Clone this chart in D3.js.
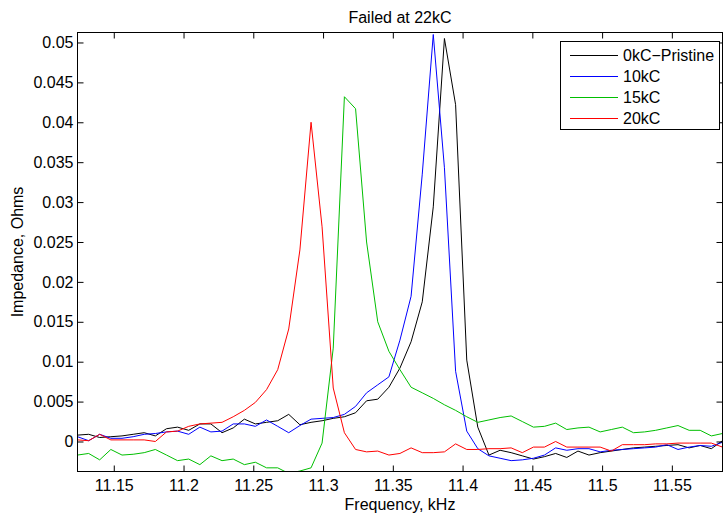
<!DOCTYPE html>
<html>
<head>
<meta charset="utf-8">
<script src="https://cdn.jsdelivr.net/npm/d3@7"></script>
<style>
  body { margin: 0; background: #fff; }
  svg { display: block; font-family: "Liberation Sans", Arial, sans-serif; }
</style>
</head>
<body>
<svg id="chart" width="723" height="515"></svg>
<script>
// frequency points (kHz)
const freq = [11.1240, 11.1320, 11.1399, 11.1479, 11.1559, 11.1639, 11.1718, 11.1798, 11.1878, 11.1957,
  11.2037, 11.2117, 11.2196, 11.2276, 11.2356, 11.2436, 11.2515, 11.2595, 11.2675, 11.2754,
  11.2834, 11.2914, 11.2993, 11.3073, 11.3153, 11.3233, 11.3312, 11.3392, 11.3472, 11.3551,
  11.3631, 11.3711, 11.3790, 11.3870, 11.3950, 11.4030, 11.4109, 11.4189, 11.4269, 11.4348,
  11.4428, 11.4508, 11.4587, 11.4667, 11.4747, 11.4827, 11.4906, 11.4986, 11.5066, 11.5145,
  11.5225, 11.5305, 11.5384, 11.5464, 11.5544, 11.5624, 11.5703, 11.5783, 11.5863];

// impedance (Ohms) per cycle count
const pristine = [0.0008, 0.0009, 0.0005, 0.0006, 0.0007, 0.0009, 0.0011, 0.0007, 0.0016, 0.0018,
  0.0014, 0.0022, 0.0022, 0.0011, 0.0017, 0.0028, 0.0022, 0.0024, 0.0026, 0.0034,
  0.0021, 0.0024, 0.0026, 0.0029, 0.0031, 0.0036, 0.0051, 0.0053, 0.0068, 0.0092,
  0.0125, 0.0175, 0.0294, 0.0505, 0.0422, 0.0102, 0.0018, -0.0017, -0.0011, -0.0014,
  -0.0018, -0.0022, -0.0019, -0.0015, -0.0020, -0.0012, -0.0017, -0.0014, -0.0012, -0.0010,
  -0.0008, -0.0007, -0.0006, -0.0005, -0.0004, -0.0008, -0.0005, -0.0009, 0.0001];

const kc10 = [0.0006, 0.0001, 0.0009, 0.0004, 0.0004, 0.0006, 0.0009, 0.0010, 0.0012, 0.0013,
  0.0009, 0.0018, 0.0012, 0.0013, 0.0022, 0.0022, 0.0019, 0.0027, 0.0019, 0.0011,
  0.0020, 0.0028, 0.0029, 0.0030, 0.0034, 0.0044, 0.0061, 0.0071, 0.0081, 0.0127,
  0.0182, 0.0335, 0.0510, 0.0343, 0.0088, 0.0013, -0.0009, -0.0018, -0.0021, -0.0024,
  -0.0023, -0.0021, -0.0017, -0.0008, -0.0011, -0.0009, -0.0009, -0.0013, -0.0011, -0.0010,
  -0.0009, -0.0008, -0.0007, -0.0004, -0.0010, -0.0007, -0.0005, -0.0006, -0.0001];

const kc15 = [-0.0017, -0.0015, -0.0023, -0.0010, -0.0017, -0.0016, -0.0014, -0.0010, -0.0017, -0.0024,
  -0.0022, -0.0029, -0.0018, -0.0024, -0.0022, -0.0029, -0.0026, -0.0033, -0.0033, -0.0040,
  -0.0037, -0.0033, -0.0002, 0.0117, 0.0432, 0.0417, 0.0250, 0.0150, 0.0113, 0.0090,
  0.0068, 0.0061, 0.0054, 0.0046, 0.0039, 0.0031, 0.0024, 0.0027, 0.0030, 0.0032,
  0.0025, 0.0018, 0.0019, 0.0023, 0.0015, 0.0017, 0.0018, 0.0012, 0.0015, 0.0018,
  0.0011, 0.0012, 0.0014, 0.0017, 0.0020, 0.0014, 0.0014, 0.0007, 0.0010];

const kc20 = [0.0002, 0.0001, 0.0009, 0.0002, 0.0002, 0.0002, 0.0002, 0.0000, 0.0012, 0.0013,
  0.0019, 0.0022, 0.0023, 0.0024, 0.0031, 0.0039, 0.0049, 0.0065, 0.0090, 0.0141,
  0.0240, 0.0400, 0.0269, 0.0067, 0.0011, -0.0010, -0.0013, -0.0012, -0.0017, -0.0015,
  -0.0008, -0.0014, -0.0014, -0.0013, -0.0003, -0.0010, -0.0010, -0.0009, -0.0009, -0.0008,
  -0.0014, -0.0007, -0.0007, 0.0000, -0.0007, -0.0007, -0.0007, -0.0007, -0.0012, -0.0004,
  -0.0004, -0.0004, -0.0003, -0.0003, -0.0002, -0.0002, -0.0002, -0.0002, -0.0007];

const seriesNames = ["0kC\u2212Pristine", "10kC", "15kC", "20kC"];
const seriesColors = ["#000000", "#0000ff", "#00bf00", "#ff0000"];
const seriesData = [pristine, kc10, kc15, kc20];

const xTicks = [11.15, 11.2, 11.25, 11.3, 11.35, 11.4, 11.45, 11.5, 11.55];
const yTicks = [0, 0.005, 0.01, 0.015, 0.02, 0.025, 0.03, 0.035, 0.04, 0.045, 0.05];

// plot box
const plotLeft = 77.5, plotRight = 722.5, plotTop = 32.5, plotBottom = 471.5;
const fontSize = "16px";

const svg = d3.select("#chart");

const x = d3.scaleLinear().domain([11.124, 11.5863]).range([plotLeft, plotRight]);
const y = d3.scaleLinear().domain([-0.00376, 0.05125]).range([plotBottom, plotTop]);

svg.append("defs").append("clipPath").attr("id", "plotclip")
  .append("rect")
    .attr("x", plotLeft).attr("y", plotTop)
    .attr("width", plotRight - plotLeft).attr("height", plotBottom - plotTop);

// lines
const line = d3.line()
    .x((d, i) => x(freq[i]))
    .y(d => y(d));

svg.append("g")
    .attr("clip-path", "url(#plotclip)")
  .selectAll("path")
  .data(seriesData)
  .join("path")
    .attr("fill", "none")
    .attr("stroke", (d, i) => seriesColors[i])
    .attr("stroke-width", 1)
    .attr("d", line);

// axes, MATLAB style: inward ticks on all four sides
const tickLen = 6;
svg.append("g")
    .attr("transform", `translate(0,${plotBottom})`)
    .call(d3.axisBottom(x).tickValues(xTicks).tickSizeInner(-tickLen).tickSizeOuter(0).tickPadding(8)
      .tickFormat(d3.format("")))
    .call(g => g.selectAll("text").style("font-size", fontSize).attr("fill", "#000"));

svg.append("g")
    .attr("transform", `translate(0,${plotTop})`)
    .call(d3.axisTop(x).tickValues(xTicks).tickSizeInner(-tickLen).tickSizeOuter(0).tickFormat(""));

svg.append("g")
    .attr("transform", `translate(${plotLeft},0)`)
    .call(d3.axisLeft(y).tickValues(yTicks).tickSizeInner(-tickLen).tickSizeOuter(0).tickPadding(4)
      .tickFormat(d3.format("")))
    .call(g => g.selectAll("text").style("font-size", fontSize).attr("fill", "#000"));

svg.append("g")
    .attr("transform", `translate(${plotRight},0)`)
    .call(d3.axisRight(y).tickValues(yTicks).tickSizeInner(-tickLen).tickSizeOuter(0).tickFormat(""));

svg.selectAll(".domain").remove();
svg.selectAll(".tick line").attr("stroke", "#000");

svg.append("rect")
    .attr("x", plotLeft).attr("y", plotTop)
    .attr("width", plotRight - plotLeft).attr("height", plotBottom - plotTop)
    .attr("fill", "none").attr("stroke", "#000").attr("stroke-width", 1);

// titles
svg.append("text")
    .attr("x", (plotLeft + plotRight) / 2).attr("y", 23)
    .attr("text-anchor", "middle")
    .style("font-size", fontSize)
    .text("Failed at 22kC");

svg.append("text")
    .attr("x", (plotLeft + plotRight) / 2).attr("y", 510)
    .attr("text-anchor", "middle")
    .style("font-size", fontSize)
    .text("Frequency, kHz");

svg.append("text")
    .attr("transform", `translate(23,${(plotTop + plotBottom) / 2}) rotate(-90)`)
    .attr("text-anchor", "middle")
    .style("font-size", fontSize)
    .text("Impedance, Ohms");

// legend
const legend = svg.append("g");
legend.append("rect")
    .attr("x", 560.5).attr("y", 41.5)
    .attr("width", 159).attr("height", 88)
    .attr("fill", "#fff").attr("stroke", "#000");

const rows = legend.selectAll("g.row")
  .data(seriesNames)
  .join("g")
    .attr("class", "row")
    .attr("transform", (d, i) => `translate(0,${55.5 + i * 21})`);

rows.append("line")
    .attr("x1", 570).attr("x2", 618)
    .attr("stroke", (d, i) => seriesColors[i]);

rows.append("text")
    .attr("x", 623).attr("y", 5.5)
    .style("font-size", fontSize)
    .text(d => d);
</script>
</body>
</html>
